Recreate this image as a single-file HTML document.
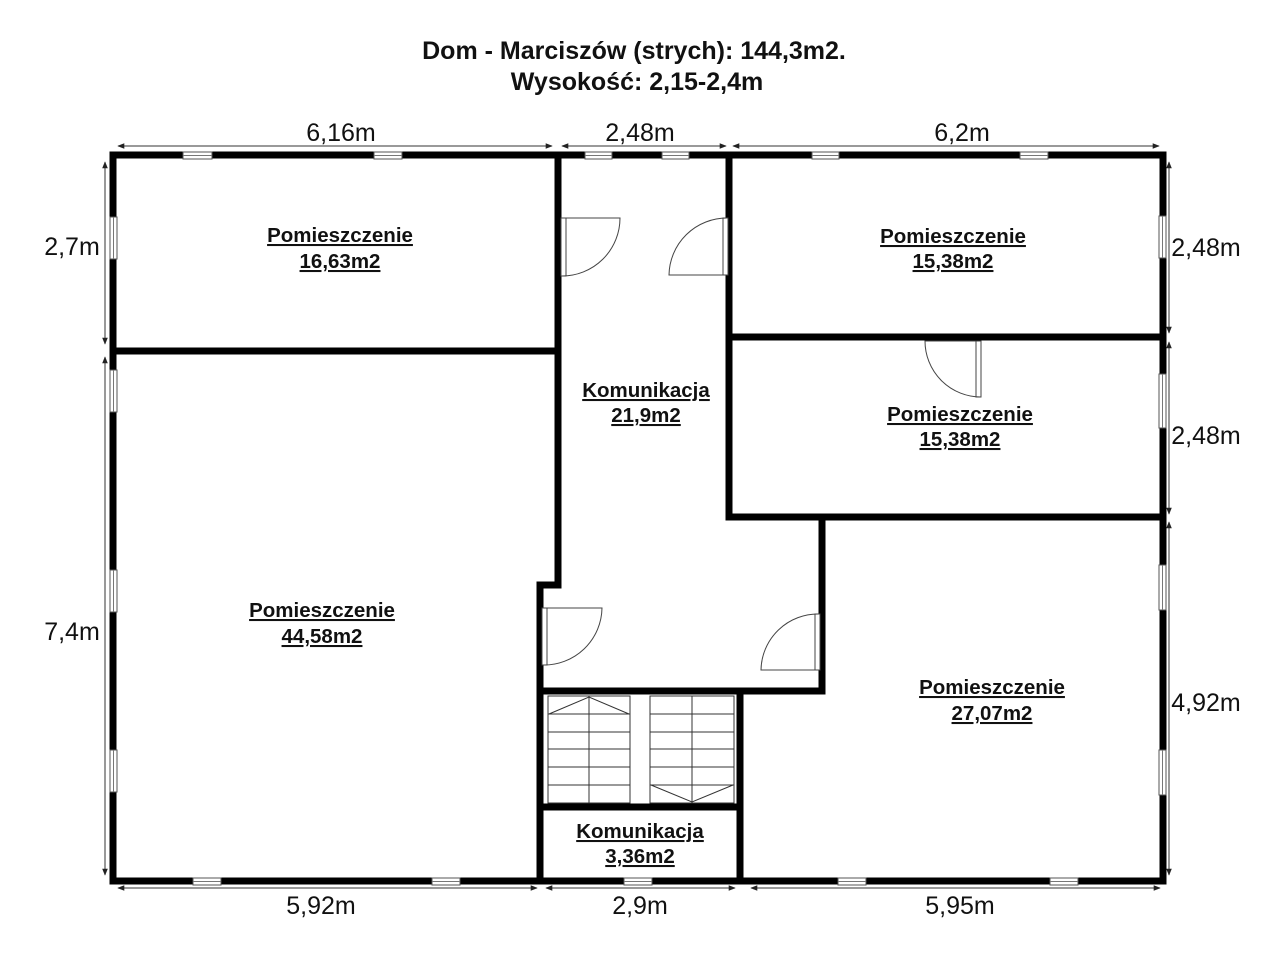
<!DOCTYPE html>
<html><head><meta charset="utf-8"><style>
html,body{margin:0;padding:0;background:#fff;}
svg{display:block;font-family:"Liberation Sans",Arial,sans-serif;}
.t{font-weight:bold;font-size:25px;text-anchor:middle;fill:#111;}
.r{font-weight:bold;font-size:20.5px;text-anchor:middle;fill:#111;text-decoration:underline;}
.d{font-size:25px;fill:#111;text-anchor:middle;}
.w{fill:none;stroke:#000;stroke-width:7;stroke-linecap:square;}
.dl{stroke:#333;stroke-width:1;marker-start:url(#a);marker-end:url(#a);}
.th{fill:none;stroke:#333;stroke-width:1;}
</style></head><body>
<svg width="1280" height="968" viewBox="0 0 1280 968" xmlns="http://www.w3.org/2000/svg">
<defs>
<marker id="a" viewBox="0 0 10 10" refX="9" refY="5" markerWidth="7" markerHeight="7" orient="auto-start-reverse"><path d="M0,1 L10,5 L0,9 z" fill="#222"/></marker>
</defs>
<text class="t" x="634" y="59">Dom - Marciszów (strych): 144,3m2.</text>
<text class="t" x="637" y="90">Wysokość: 2,15-2,4m</text>

<line class="dl" x1="118" y1="146" x2="552" y2="146"/>
<line class="dl" x1="562" y1="146" x2="726" y2="146"/>
<line class="dl" x1="733" y1="146" x2="1159" y2="146"/>
<text class="d" x="341" y="141">6,16m</text>
<text class="d" x="640" y="141">2,48m</text>
<text class="d" x="962" y="141">6,2m</text>
<line class="dl" x1="118" y1="888" x2="537" y2="888"/>
<line class="dl" x1="546" y1="888" x2="735" y2="888"/>
<line class="dl" x1="751" y1="888" x2="1160" y2="888"/>
<text class="d" x="321" y="914">5,92m</text>
<text class="d" x="640" y="914">2,9m</text>
<text class="d" x="960" y="914">5,95m</text>
<line class="dl" x1="105" y1="162" x2="105" y2="344"/>
<line class="dl" x1="105" y1="357" x2="105" y2="875"/>
<text class="d" x="72" y="255">2,7m</text>
<text class="d" x="72" y="640">7,4m</text>
<line class="dl" x1="1169" y1="162" x2="1169" y2="333"/>
<line class="dl" x1="1169" y1="342" x2="1169" y2="514"/>
<line class="dl" x1="1169" y1="522" x2="1169" y2="875"/>
<text class="d" x="1206" y="256">2,48m</text>
<text class="d" x="1206" y="444">2,48m</text>
<text class="d" x="1206" y="711">4,92m</text>

<rect class="w" x="113" y="155" width="1050" height="726" style="stroke-linecap:butt"/>
<polyline class="w" points="113,351 558,351"/>
<polyline class="w" points="558,155 558,585 540,585 540,881"/>
<polyline class="w" points="729,155 729,517 1163,517"/>
<polyline class="w" points="729,337 1163,337"/>
<polyline class="w" points="822,517 822,691 540,691"/>
<polyline class="w" points="740,691 740,881"/>
<polyline class="w" points="540,807 740,807"/>

<g fill="#fff" stroke="#555" stroke-width="1">
<rect x="183" y="152" width="29" height="7"/><rect x="374" y="152" width="28" height="7"/>
<rect x="585" y="152" width="27" height="7"/><rect x="662" y="152" width="27" height="7"/>
<rect x="812" y="152" width="27" height="7"/><rect x="1020" y="152" width="28" height="7"/>
<rect x="193" y="878" width="28" height="7"/><rect x="432" y="878" width="28" height="7"/>
<rect x="624" y="878" width="28" height="7"/><rect x="838" y="878" width="28" height="7"/>
<rect x="1050" y="878" width="28" height="7"/>
<rect x="110" y="217" width="7" height="42"/><rect x="110" y="370" width="7" height="42"/>
<rect x="110" y="570" width="7" height="42"/><rect x="110" y="750" width="7" height="42"/>
<rect x="1159" y="216" width="7" height="42"/><rect x="1159" y="374" width="7" height="54"/>
<rect x="1159" y="565" width="7" height="45"/><rect x="1159" y="750" width="7" height="45"/>
</g>
<g stroke="#777" stroke-width="1">
<line x1="183" y1="155.5" x2="212" y2="155.5"/><line x1="374" y1="155.5" x2="402" y2="155.5"/>
<line x1="585" y1="155.5" x2="612" y2="155.5"/><line x1="662" y1="155.5" x2="689" y2="155.5"/>
<line x1="812" y1="155.5" x2="839" y2="155.5"/><line x1="1020" y1="155.5" x2="1048" y2="155.5"/>
<line x1="193" y1="881.5" x2="221" y2="881.5"/><line x1="432" y1="881.5" x2="460" y2="881.5"/>
<line x1="624" y1="881.5" x2="652" y2="881.5"/><line x1="838" y1="881.5" x2="866" y2="881.5"/>
<line x1="1050" y1="881.5" x2="1078" y2="881.5"/>
<line x1="113.5" y1="217" x2="113.5" y2="259"/><line x1="113.5" y1="370" x2="113.5" y2="412"/>
<line x1="113.5" y1="570" x2="113.5" y2="612"/><line x1="113.5" y1="750" x2="113.5" y2="792"/>
<line x1="1162.5" y1="216" x2="1162.5" y2="258"/><line x1="1162.5" y1="374" x2="1162.5" y2="428"/>
<line x1="1162.5" y1="565" x2="1162.5" y2="610"/><line x1="1162.5" y1="750" x2="1162.5" y2="795"/>
</g>

<g fill="#fff" stroke="#444" stroke-width="1">
<rect x="561" y="218" width="5" height="58"/>
<path d="M566,218 L620,218 A58,58 0 0 1 562,276" fill="none"/>
<rect x="723" y="218" width="5" height="57"/>
<path d="M723,275 L669,275 A58,58 0 0 1 727,218" fill="none"/>
<rect x="976" y="341" width="5" height="56" />
<path d="M976,341 L925,341 A56,56 0 0 0 981,397" fill="none"/>
<rect x="815" y="614" width="5" height="56"/>
<path d="M815,670 L761,670 A57,57 0 0 1 819,614" fill="none"/>
<rect x="542" y="608" width="5" height="57"/>
<path d="M547,608 L602,608 A58,58 0 0 1 543,665" fill="none"/>
</g>

<g class="th">
<rect x="548" y="696" width="82" height="107"/>
<rect x="650" y="696" width="84" height="107"/>
<line x1="589" y1="696" x2="589" y2="803"/>
<line x1="692" y1="696" x2="692" y2="803"/>
<line x1="548" y1="714" x2="630" y2="714"/><line x1="548" y1="732" x2="630" y2="732"/>
<line x1="548" y1="749" x2="630" y2="749"/><line x1="548" y1="767" x2="630" y2="767"/>
<line x1="548" y1="785" x2="630" y2="785"/>
<line x1="650" y1="714" x2="734" y2="714"/><line x1="650" y1="732" x2="734" y2="732"/>
<line x1="650" y1="749" x2="734" y2="749"/><line x1="650" y1="767" x2="734" y2="767"/>
<line x1="650" y1="785" x2="734" y2="785"/>
<polyline points="549,714 589,697 629,714"/>
<polyline points="651,785 692,802 733,785"/>
</g>

<text class="r" x="340" y="242">Pomieszczenie</text>
<text class="r" x="340" y="268">16,63m2</text>
<text class="r" x="322" y="617">Pomieszczenie</text>
<text class="r" x="322" y="643">44,58m2</text>
<text class="r" x="646" y="397">Komunikacja</text>
<text class="r" x="646" y="422">21,9m2</text>
<text class="r" x="953" y="243">Pomieszczenie</text>
<text class="r" x="953" y="268">15,38m2</text>
<text class="r" x="960" y="421">Pomieszczenie</text>
<text class="r" x="960" y="446">15,38m2</text>
<text class="r" x="992" y="694">Pomieszczenie</text>
<text class="r" x="992" y="720">27,07m2</text>
<text class="r" x="640" y="838">Komunikacja</text>
<text class="r" x="640" y="863">3,36m2</text>
</svg>
</body></html>
